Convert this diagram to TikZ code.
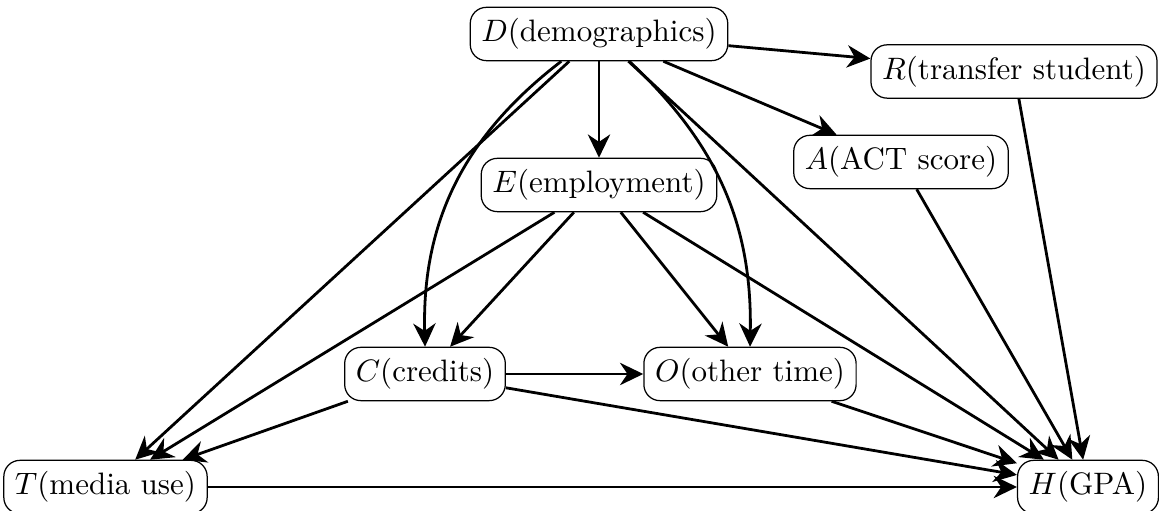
\documentclass[tikz,border=0pt]{standalone}
\usetikzlibrary{arrows.meta}
\begin{document}
\begin{tikzpicture}[x=0.3226pt, y=-0.3226pt,
  var/.style={draw, line width=0.4pt, rounded corners=5.2pt, inner sep=3.6pt},
  edge/.style={line width=0.9pt, -{Stealth[length=7.5pt,width=7.2pt,inset=2.4pt]}}]
\useasboundingbox (0,0) rectangle (1159,511);
\node[var] (D) at (599,34) {$D$(demographics)};
\node[var] (R) at (1014,71.5) {$R$(transfer student)};
\node[var] (A) at (901,162) {$A$(ACT score)};
\node[var] (E) at (599,185) {$E$(employment)};
\node[var] (C) at (425,374) {$C$(credits)};
\node[var] (O) at (750,374) {$O$(other time)};
\node[var] (T) at (105.5,487) {$T$(media use)};
\node[var] (H) at (1088,487) {$H$(GPA)};
\draw[edge] (D) -- (R);
\draw[edge] (D) -- (E);
\draw[edge] (D) -- (A);
\draw[edge] (D) to[bend right=27] (C);
\draw[edge] (D) -- (T);
\draw[edge] (D) to[bend left=24] (O);
\draw[edge] (D) -- (H);
\draw[edge] (E) -- (C);
\draw[edge] (E) -- (T);
\draw[edge] (E) -- (O);
\draw[edge] (E) -- (H);
\draw[edge] (R) -- (H);
\draw[edge] (A) -- (H);
\draw[edge] (C) -- (O);
\draw[edge] (C) -- (T);
\draw[edge] (C) -- (H);
\draw[edge] (O) -- (H);
\draw[edge] (T) -- (H);
\end{tikzpicture}
\end{document}
